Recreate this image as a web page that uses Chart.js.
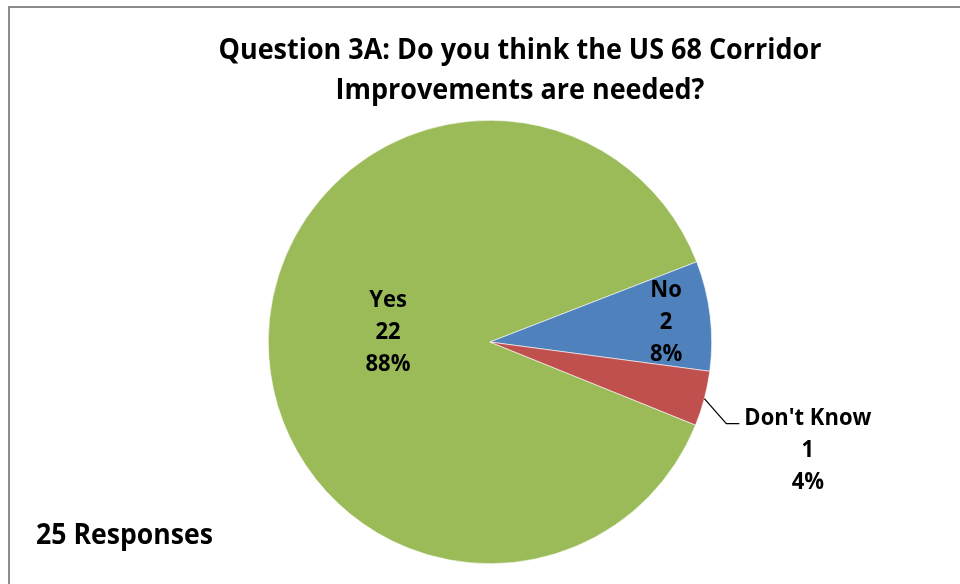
<!DOCTYPE html>
<html>
<head>
<meta charset="utf-8">
<script src="https://cdn.jsdelivr.net/npm/chart.js@4/dist/chart.umd.min.js"></script>
<style>
  html, body { margin: 0; padding: 0; background: #fff; }
  canvas { display: block; }
</style>
</head>
<body>
<canvas id="chart" width="960" height="584"></canvas>
<script>
const categories = ['Yes', 'No', "Don't Know"];
const counts = [22, 2, 1];
const percents = ['88%', '8%', '4%'];
const titleLines = ['Question 3A: Do you think the US 68 Corridor', 'Improvements are needed?'];
const footnote = '25 Responses';

const colors = ['#9BBB59', '#4F81BD', '#C0504D'];
// where each label sits: fraction of radius along the slice middle (+ nudge), or outside with a leader
const labelPlacement = [{ r: 0.46, dy: -10 }, { r: 0.80, dy: 0 }, { outside: true }];

const FONT = '"Open Sans", "Liberation Sans", sans-serif';

// Calibri isn't around: use a taller font and squeeze it to the reference width
function squeeze(ctx, size, text, width) {
  ctx.font = `bold ${size}px ${FONT}`;
  return width / ctx.measureText(text).width;
}

function drawText(ctx, text, x, y, sx, align) {
  ctx.save();
  ctx.translate(x, y);
  ctx.scale(sx, 1);
  ctx.textAlign = align;
  ctx.fillText(text, 0, 0);
  ctx.restore();
}

const annotations = {
  id: 'annotations',
  afterDraw(chart) {
    const ctx = chart.ctx;
    ctx.save();

    // frame (only top and left show)
    ctx.strokeStyle = '#8c8c8c';
    ctx.lineWidth = 2;
    ctx.beginPath();
    ctx.moveTo(9, 584);
    ctx.lineTo(9, 7);
    ctx.lineTo(960, 7);
    ctx.stroke();

    ctx.fillStyle = '#000';
    ctx.textBaseline = 'alphabetic';

    // title
    const tsx = squeeze(ctx, 28, titleLines[0], 603);
    drawText(ctx, titleLines[0], 520, 59, tsx, 'center');
    drawText(ctx, titleLines[1], 520, 99, tsx, 'center');

    // footnote
    const fsx = squeeze(ctx, 29, footnote, 177);
    drawText(ctx, footnote, 36, 544, fsx, 'left');

    // slice labels
    const lsx = squeeze(ctx, 22.5, "Don't Know", 127);
    const lineH = 32;
    const meta = chart.getDatasetMeta(0);
    meta.data.forEach((arc, i) => {
      const p = arc.getProps(['x', 'y', 'startAngle', 'endAngle', 'outerRadius'], true);
      const mid = (p.startAngle + p.endAngle) / 2;
      const lines = [categories[i], String(counts[i]), percents[i]];
      const place = labelPlacement[i];
      let cx, top;
      if (place.outside) {
        const x0 = p.x + Math.cos(mid) * p.outerRadius;
        const y0 = p.y + Math.sin(mid) * p.outerRadius;
        const x1 = x0 + 22, y1 = y0 + 25;
        const x2 = x1 + 13;
        ctx.strokeStyle = '#000';
        ctx.lineWidth = 1.2;
        ctx.beginPath();
        ctx.moveTo(x0, y0);
        ctx.lineTo(x1, y1);
        ctx.lineTo(x2, y1);
        ctx.stroke();
        const w = Math.max(...lines.map(l => ctx.measureText(l).width)) * lsx;
        cx = x2 + 5 + w / 2;
        top = y1 + 1;
      } else {
        cx = p.x + Math.cos(mid) * p.outerRadius * place.r;
        const cy = p.y + Math.sin(mid) * p.outerRadius * place.r + place.dy;
        top = cy - lineH + 8;
      }
      lines.forEach((l, k) => drawText(ctx, l, cx, top + k * lineH, lsx, 'center'));
    });

    ctx.restore();
  }
};

new Chart(document.getElementById('chart'), {
  type: 'pie',
  data: {
    labels: categories,
    datasets: [{
      data: counts,
      backgroundColor: colors,
      borderColor: '#ffffff',
      borderWidth: 0.6
    }]
  },
  options: {
    responsive: false,
    animation: false,
    rotation: 112,
    layout: { padding: { left: 268, right: 248, top: 120, bottom: 20 } },
    plugins: {
      legend: { display: false },
      tooltip: { enabled: false },
      title: { display: false }
    }
  },
  plugins: [annotations]
});
</script>
</body>
</html>
